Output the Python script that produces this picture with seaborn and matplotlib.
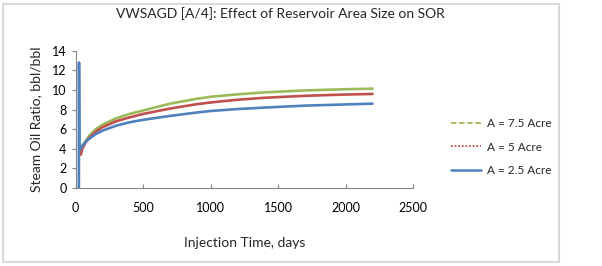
import numpy as np
import pandas as pd
import matplotlib.pyplot as plt
import seaborn as sns
from matplotlib.lines import Line2D
from matplotlib.patches import Rectangle

# values
days_75 = [35, 50, 75, 100, 150, 200, 300, 400, 500, 700, 900, 1000, 1200, 1400, 1700, 2000, 2200]
sor_75 = [3.6, 4.2, 4.8, 5.3, 6.0, 6.45, 7.1, 7.55, 7.9, 8.6, 9.1, 9.3, 9.55, 9.75, 9.95, 10.07, 10.13]

days_5 = [40, 50, 75, 100, 150, 200, 300, 400, 500, 700, 900, 1000, 1200, 1400, 1700, 2000, 2200]
sor_5 = [3.4, 4.0, 4.65, 5.1, 5.75, 6.2, 6.8, 7.2, 7.55, 8.1, 8.55, 8.72, 9.0, 9.2, 9.4, 9.53, 9.59]

days_25 = [25, 26, 29, 40, 50, 75, 100, 150, 200, 300, 400, 500, 700, 900, 1000, 1200, 1400, 1700, 2000, 2200]
sor_25 = [0.0, 12.8, 3.9, 4.05, 4.3, 4.7, 5.0, 5.5, 5.85, 6.35, 6.7, 6.95, 7.35, 7.7, 7.85, 8.05, 8.2, 8.4, 8.52, 8.6]

labels = ["A = 7.5 Acre", "A = 5 Acre", "A = 2.5 Acre"]
colors = ["#9BBB59", "#C0504D", "#4F81BD"]

df = pd.concat([
    pd.DataFrame({"days": days_75, "SOR": sor_75, "case": labels[0]}),
    pd.DataFrame({"days": days_5, "SOR": sor_5, "case": labels[1]}),
    pd.DataFrame({"days": days_25, "SOR": sor_25, "case": labels[2]}),
])

sns.set_style("white")
plt.rcParams['font.family'] = ['Lato', 'DejaVu Sans']

fig = plt.figure(figsize=(6.02, 2.66), dpi=100)
ax = fig.add_axes([75.5 / 602, 1 - 188 / 266, (413 - 75.5) / 602, (188 - 50.7) / 266])

sns.lineplot(data=df, x="days", y="SOR", hue="case", palette=colors, sort=False,
             estimator=None, linewidth=1.9, legend=False, ax=ax)

ax.set_xlim(0, 2500)
ax.set_ylim(0, 14)
ax.set_xticks(range(0, 2501, 500))
ax.set_yticks(range(0, 15, 2))
ax.set_xlabel("Injection Time, days", fontsize=10, labelpad=17)
ax.set_ylabel("Steam Oil Ratio, bbl/bbl", fontsize=10, labelpad=7)
ax.tick_params(axis="both", labelsize=9, colors="black")
ax.tick_params(axis="x", direction="in", length=3, color="#868686", pad=10)
ax.tick_params(axis="y", direction="out", length=3, color="#868686", left=True)
ax.tick_params(axis="x", bottom=True)
for s in ["top", "right"]:
    ax.spines[s].set_visible(False)
for s in ["left", "bottom"]:
    ax.spines[s].set_color("#868686")
    ax.spines[s].set_linewidth(0.8)

fig.text(280 / 602, 1 - 14 / 266, "VWSAGD [A/4]: Effect of Reservoir Area Size on SOR",
         ha="center", va="center", fontsize=10)

handles = [
    Line2D([], [], color=colors[0], lw=1.3, ls=(0, (3, 1.5))),
    Line2D([], [], color=colors[1], lw=1.3, ls=(0, (1, 1))),
    Line2D([], [], color=colors[2], lw=1.8),
]
fig.legend(handles, labels, loc="center left", bbox_to_anchor=(440 / 602, 1 - 147 / 266),
           frameon=False, fontsize=8.5, handlelength=2.6, labelspacing=1.05, handletextpad=0.5)

fig.patches.append(Rectangle((3 / 602, 4 / 266), 556 / 602, 258 / 266, transform=fig.transFigure,
                             fill=False, edgecolor="#d9d9d9", lw=1.5))

fig.savefig("out.png", dpi=100)
